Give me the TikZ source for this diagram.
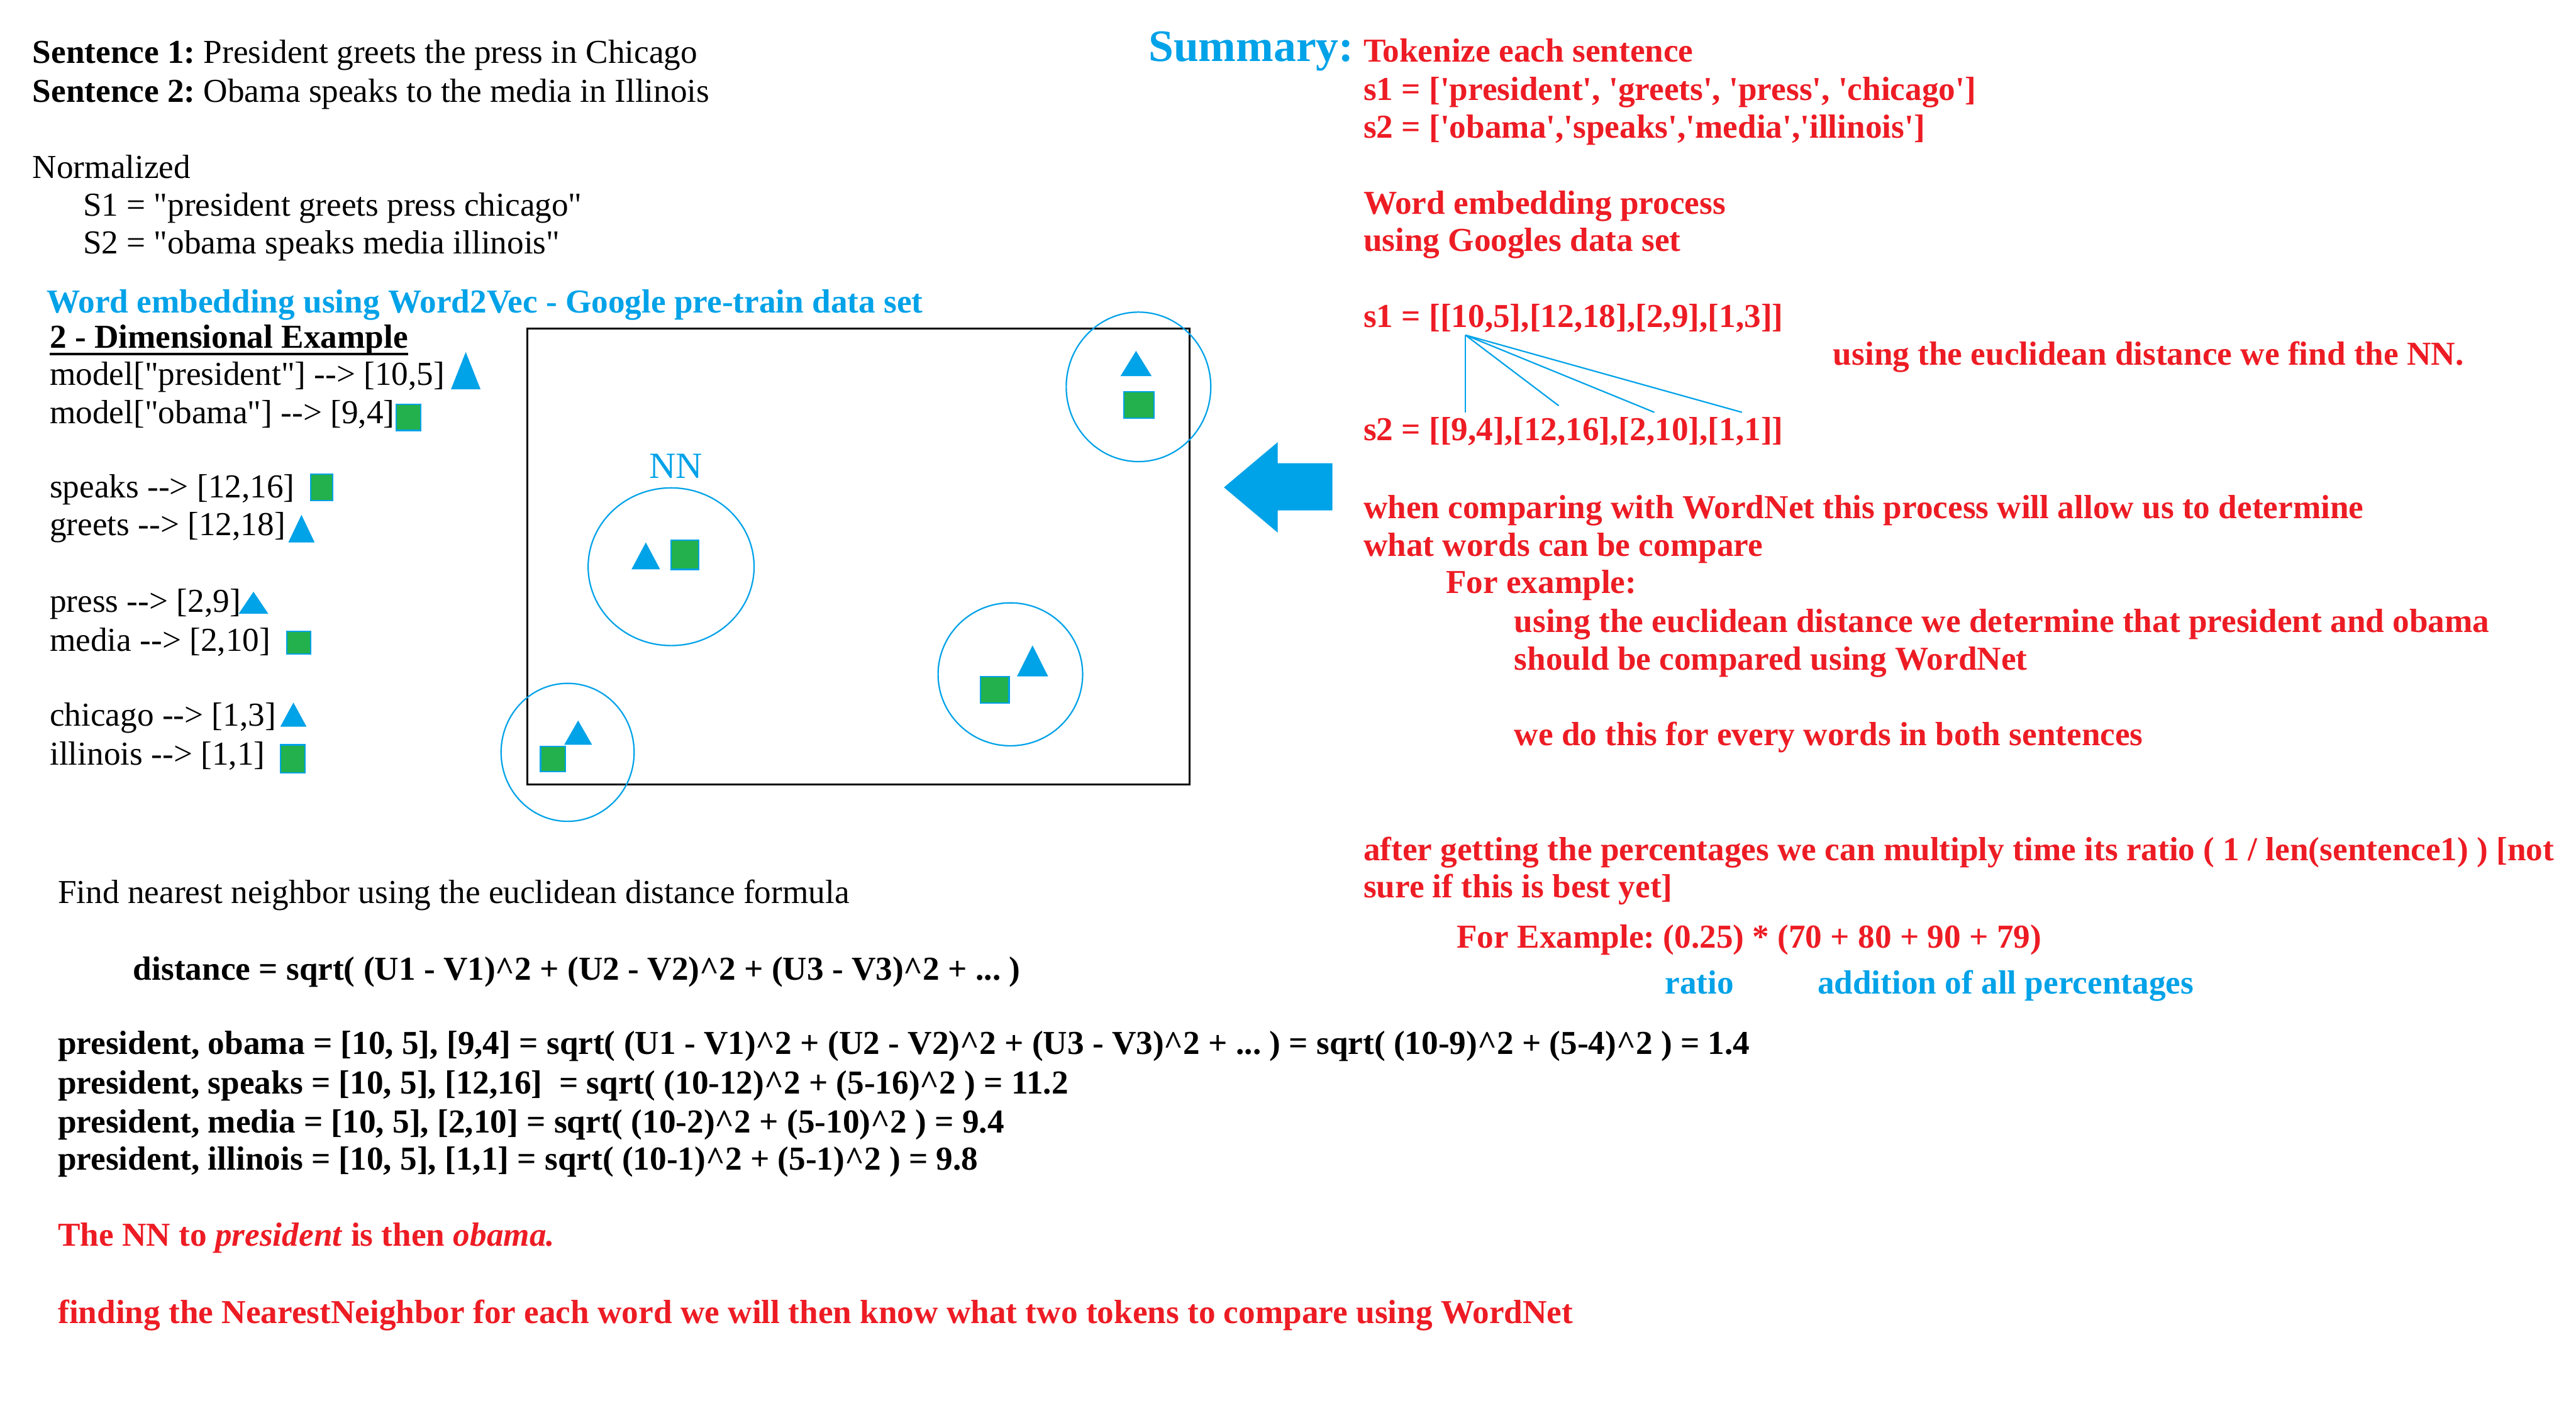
\documentclass[tikz,border=0pt]{standalone}
\usepackage{fontspec}
\setmainfont{Liberation Serif}[Ligatures=TeXOff]
\definecolor{nnblue}{RGB}{0,162,232}
\definecolor{nngreen}{RGB}{34,177,76}
\definecolor{nnred}{RGB}{237,28,36}
\newcommand{\sqtwo}{\textasciicircum2}
\begin{document}
\fontsize{29}{33.5}\selectfont\frenchspacing
\begin{tikzpicture}[x=0.05cm,y=-0.05cm,
  txt/.style={anchor=base west,inner sep=0pt,yshift=-1.6pt},
  note/.style={txt,text=nnred,font=\bfseries},
  hint/.style={txt,text=nnblue,font=\bfseries},
  ring/.style={draw=nnblue,line width=1.2pt},
  tri/.style={fill=nnblue},
  box/.style={fill=nngreen,draw=nnblue,line width=1.2pt},
  link/.style={draw=nnblue,line width=1.2pt}]
  \useasboundingbox[fill=white] (0,0) rectangle (1568,860);

  \node[txt] (sent1) at (19.7,37.2) {\textbf{Sentence 1:} President greets the press in Chicago};
  \node[txt] (sent2) at (19.7,61) {\textbf{Sentence 2:} Obama speaks to the media in Illinois};
  \node[txt] (norm) at (19.7,107.3) {Normalized};
  \node[txt] (norms1) at (50.4,130.5) {S1 = "president greets press chicago"};
  \node[txt] (norms2) at (50.4,153.4) {S2 = "obama speaks media illinois"};
  \node[hint] (w2v) at (28.3,189.4) {Word embedding using Word2Vec - Google pre-train data set};
  \node[txt,font=\bfseries] (dimex) at (30.2,210.6) {2 - Dimensional Example};
  \draw[line width=2pt] ([yshift=-5.3pt]dimex.base west) -- ([yshift=-5.3pt]dimex.base east);
  \node[txt] (vpres) at (30.2,233.4) {model["president"] --> [10,5]};
  \node[txt] (vobama) at (30.2,256.6) {model["obama"] --> [9,4]};
  \node[txt] (vspeaks) at (30.2,302) {speaks --> [12,16]};
  \node[txt] (vgreets) at (30.2,324.8) {greets --> [12,18]};
  \node[txt] (vpress) at (30.2,371.4) {press --> [2,9]};
  \node[txt] (vmedia) at (30.2,395.2) {media --> [2,10]};
  \node[txt] (vchicago) at (30.2,440.8) {chicago --> [1,3]};
  \node[txt] (villinois) at (30.2,464.6) {illinois --> [1,1]};

  \draw[line width=1.5pt] (321,200) rectangle (724,477.5);
  \node[anchor=base,inner sep=0pt,text=nnblue,font=\fontsize{32}{36}\selectfont] (nnlabel) at (411.5,291) {NN};
  \foreach \cx/\cy/\rx/\ry in {693/235.5/44/45.5, 408.5/345/50.5/48, 615/410.5/44/43.5, 345.5/458/40.5/42}
    \draw[ring] (\cx,\cy) ellipse [x radius=\rx, y radius=\ry];
  \foreach \x/\y/\w/\h in {283.5/237/18/22.7, 183.5/330.2/16/16.8, 154.3/373.6/18/13.4, 178.6/442.4/16/14.7,
      691.5/229/19/15.4, 393.1/346.6/17.4/16.4, 628.5/411.8/19/18.9, 351.9/453.4/17/14.8}
    \fill[tri] ({\x-\w/2},\y) -- ({\x+\w/2},\y) -- (\x,{\y-\h}) -- cycle;
  \foreach \xa/\ya/\xb/\yb in {241.3/246.2/256/262, 189.2/288.6/202.4/304.7, 174.5/384.4/189.2/398.1,
      170.6/453.4/185.8/470.6, 684/238.5/702.5/254.6, 408.4/328.7/425.4/346.6,
      596.7/411.8/614.2/428, 329/454.3/344/469.7}
    \draw[box] (\xa,\ya) rectangle (\xb,\yb);

  \fill[nnblue] (745,296.7) -- (777.7,269.2) -- (777.7,282) -- (811,282) -- (811,310.7)
    -- (777.7,310.7) -- (777.7,324.2) -- cycle;

  \node[txt,text=nnblue,font=\fontsize{39}{45}\selectfont\bfseries] (summary) at (699,36.1) {Summary:};
  \node[note] (tok) at (829.8,36.6) {Tokenize each sentence};
  \node[note] (toks1) at (829.8,59.9) {s1 = ['president', 'greets', 'press', 'chicago']};
  \node[note] (toks2) at (829.8,82.8) {s2 = ['obama','speaks','media','illinois']};
  \node[note] (emb1) at (829.8,129.4) {Word embedding process};
  \node[note] (emb2) at (829.8,151.8) {using Googles data set};
  \node[note] (vecs1) at (829.8,198.1) {s1 = [[10,5],[12,18],[2,9],[1,3]]};
  \node[note] (findnn) at (1115.7,221) {using the euclidean distance we find the NN.};
  \node[note] (vecs2) at (829.8,267.1) {s2 = [[9,4],[12,16],[2,10],[1,1]]};
  \coordinate (hub) at (892,204);
  \coordinate (to1) at (892,251);
  \coordinate (to2) at (948.8,247);
  \coordinate (to3) at (1007,251);
  \coordinate (to4) at (1060.3,251);
  \foreach \t in {to1,to2,to3,to4}
    \draw[link] (hub) -- (\t);
  \node[note] (cmp1) at (829.8,314.6) {when comparing with WordNet this process will allow us to determine};
  \node[note] (cmp2) at (829.8,337.4) {what words can be compare};
  \node[note] (forex) at (880,360.1) {For example:};
  \node[note] (eg1) at (921.6,383.7) {using the euclidean distance we determine that president and obama};
  \node[note] (eg2) at (921.6,406.7) {should be compared using WordNet};
  \node[note] (eg3) at (921.6,452.7) {we do this for every words in both sentences};
  \node[note] (ratio1) at (829.8,522.6) {after getting the percentages we can multiply time its ratio ( 1 / len(sentence1) ) [not};
  \node[note] (ratio2) at (829.8,545.3) {sure if this is best yet]};
  \node[note] (forex2) at (886.6,576.1) {For Example: (0.25) * (70 + 80 + 90 + 79)};
  \node[hint] (lblratio) at (1013.4,603.9) {ratio};
  \node[hint] (lbladd) at (1106.2,603.9) {addition of all percentages};

  \node[txt] (findf) at (35.2,548.7) {Find nearest neighbor using the euclidean distance formula};
  \node[txt,font=\bfseries] (dist) at (81,595.3) {distance = sqrt( (U1 - V1)\sqtwo{} + (U2 - V2)\sqtwo{} + (U3 - V3)\sqtwo{} + ... )};
  \node[txt,font=\bfseries] (d1) at (35.2,640.7) {president, obama = [10, 5], [9,4] = sqrt( (U1 - V1)\sqtwo{} + (U2 - V2)\sqtwo{} + (U3 - V3)\sqtwo{} + ... ) = sqrt( (10-9)\sqtwo{} + (5-4)\sqtwo{} ) = 1.4};
  \node[txt,font=\bfseries] (d2) at (35.2,664.6) {president, speaks = [10, 5], [12,16]\ \ = sqrt( (10-12)\sqtwo{} + (5-16)\sqtwo{} ) = 11.2};
  \node[txt,font=\bfseries] (d3) at (35.2,688.4) {president, media = [10, 5], [2,10] = sqrt( (10-2)\sqtwo{} + (5-10)\sqtwo{} ) = 9.4};
  \node[txt,font=\bfseries] (d4) at (35.2,711.2) {president, illinois = [10, 5], [1,1] = sqrt( (10-1)\sqtwo{} + (5-1)\sqtwo{} ) = 9.8};
  \node[note] (concl) at (35.2,757.3) {The NN to \textit{president} is then \textit{obama.}};
  \node[note] (final) at (35.2,804.4) {finding the NearestNeighbor for each word we will then know what two tokens to compare using WordNet};
\end{tikzpicture}
\end{document}
